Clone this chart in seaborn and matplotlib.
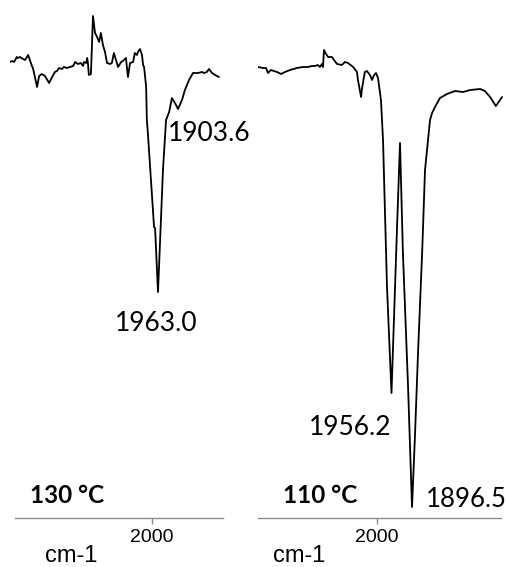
import matplotlib
matplotlib.use("Agg")
import matplotlib.pyplot as plt
import seaborn as sns
import pandas as pd

# spectrum at 130 °C (wavenumber in cm-1, transmittance in arbitrary %)
wn_130 = [2414, 2408, 2402, 2394, 2391, 2385, 2376, 2370, 2361, 2356, 2350, 2347,
          2335, 2329, 2321, 2312, 2300, 2291, 2283, 2277, 2271, 2262, 2257, 2248,
          2239, 2230, 2224, 2216, 2207, 2201, 2198, 2192, 2189, 2187, 2184, 2178,
          2172, 2166, 2160, 2154, 2149, 2143, 2137, 2131, 2122, 2117, 2111, 2105,
          2099, 2090, 2085, 2076, 2070, 2064, 2055, 2050, 2044, 2041, 2035, 2029,
          2026, 2023, 2017, 2015, 2012, 1994, 1991, 1982.5, 1968, 1959, 1950, 1942,
          1933, 1924, 1912.5, 1904, 1892, 1880.5, 1866, 1854, 1848, 1840, 1834,
          1825, 1816, 1805]
t_130 = [91.2, 91.4, 91.2, 92.2, 92.0, 92.2, 91.8, 91.6, 92.6, 91.6, 90.4, 90.0,
         86.2, 88.4, 88.8, 88.4, 87.0, 88.2, 89.2, 89.4, 90.0, 89.8, 90.2, 90.0,
         90.2, 90.4, 91.2, 90.8, 91.0, 90.4, 91.2, 91.0, 92.0, 91.2, 88.6, 88.8,
         100.4, 97.0, 96.2, 95.2, 97.0, 94.6, 93.2, 91.0, 90.8, 91.0, 93.0, 91.6,
         90.2, 91.2, 91.4, 92.0, 88.2, 91.0, 91.2, 93.0, 92.6, 93.2, 93.8, 92.6,
         90.6, 90.2, 86.2, 79.6, 77.0, 58.2, 58.0, 45.2, 69.6, 79.6, 81.2, 84.0,
         83.0, 81.8, 83.6, 85.6, 87.6, 89.0, 89.0, 89.2, 89.0, 89.2, 89.8,
         89.0, 88.6, 88.2]

# spectrum at 110 °C
wn_110 = [2345, 2331, 2322, 2316, 2308, 2299, 2290, 2278, 2267, 2252, 2232, 2214,
          2200, 2188, 2179, 2171, 2165, 2159, 2156, 2153, 2147, 2141, 2130, 2124,
          2115, 2101, 2092, 2083, 2068, 2057, 2054, 2045, 2042, 2034, 2028, 2019,
          2013, 2007, 2001.5, 1995.6, 1987, 1984, 1981, 1969.4, 1956.3, 1946,
          1939.4, 1931.5, 1923, 1908, 1896.5, 1888, 1879, 1867, 1858.6, 1844, 1838,
          1829.5, 1815, 1794.5, 1771, 1748, 1727, 1698, 1684, 1669, 1652, 1646, 1634]
t_110 = [90.2, 90.0, 90.0, 89.0, 89.6, 89.4, 89.2, 88.8, 89.2, 89.6, 90.0, 90.2,
         90.2, 90.4, 90.4, 90.6, 90.2, 90.8, 90.2, 93.6, 92.8, 92.2, 92.2, 91.6,
         90.8, 90.6, 91.2, 91.0, 90.2, 89.2, 87.6, 84.2, 86.0, 89.2, 89.4, 88.6,
         87.6, 88.6, 89.0, 88.0, 83.6, 79.6, 75.6, 46.2, 25.0, 46.2,
         59.6, 75.0, 53.0, 26.2, 2.2, 16.2, 33.0, 53.0, 69.6, 79.6, 81.0,
         82.2, 84.0, 84.8, 85.4, 85.2, 85.6, 85.8, 85.4, 84.2, 82.4, 83.0, 84.2]

peaks_130 = ["1963.0", "1903.6"]
peaks_110 = ["1956.2", "1896.5"]
temps = ["130 °C", "110 °C"]

sns.set_style("white")
plt.rcParams["font.family"] = ["Liberation Sans", "DejaVu Sans"]
plt.rcParams["text.color"] = "black"
plt.rcParams["xtick.labelcolor"] = "black"

fig = plt.figure(figsize=(5.07, 5.67), dpi=100)
ax1 = fig.add_axes([10 / 507, 49 / 567, 213 / 507, 518 / 567])
ax2 = fig.add_axes([258 / 507, 49 / 567, 245 / 507, 518 / 567])

df1 = pd.DataFrame({"wn": wn_130, "t": t_130})
df2 = pd.DataFrame({"wn": wn_110, "t": t_110})
sns.lineplot(data=df1, x="wn", y="t", ax=ax1, color="black", lw=1.3,
             sort=False, estimator=None)
sns.lineplot(data=df2, x="wn", y="t", ax=ax2, color="black", lw=1.3,
             sort=False, estimator=None)

ax1.set_xlim(2413.9, 1793.0)
ax2.set_xlim(2345.4, 1631.3)
ax1.spines["bottom"].set_bounds(1793.0, 2399.4)
ax2.spines["bottom"].set_bounds(1637.1, 2345.4)

for ax in (ax1, ax2):
    ax.set_ylim(0, 103.6)
    ax.patch.set_visible(False)
    for side in ("left", "right", "top"):
        ax.spines[side].set_visible(False)
    ax.spines["bottom"].set_color("#8c8c8c")
    ax.spines["bottom"].set_linewidth(1.0)
    ax.set_yticks([])
    ax.set_xticks([2000])
    ax.set_xticklabels(["2000"])
    ax.tick_params(axis="x", direction="out", length=4, width=1.0,
                   color="#8c8c8c", pad=4, labelsize=14, bottom=True,
                   labelcolor="black")
    ax.set_xlabel("")
    ax.set_ylabel("")

lato = ["Lato", "DejaVu Sans"]
ax1.text(1988.3, 37.4, peaks_130[0], ha="center", va="baseline", fontsize=19,
         family=lato, color="black")
ax1.text(1953.4, 75.4, peaks_130[1], ha="left", va="baseline", fontsize=19,
         family=lato, color="black")
ax2.text(2077, 16.6, peaks_110[0], ha="center", va="baseline", fontsize=19,
         family=lato, color="black")
ax2.text(1856, 2.2, peaks_110[1], ha="left", va="baseline", fontsize=18.5,
         family=lato, color="black")
ax1.text(2356, 3.0, temps[0], ha="left", va="baseline", fontsize=17.5,
         fontweight="bold", family=lato, color="black")
ax2.text(2272.5, 3.0, temps[1], ha="left", va="baseline", fontsize=17.5,
         fontweight="bold", family=lato, color="black")

fig.text(45 / 507, 5 / 567, "cm-1", ha="left", va="baseline", fontsize=17,
         color="black")
fig.text(273 / 507, 5 / 567, "cm-1", ha="left", va="baseline", fontsize=17,
         color="black")

fig.savefig("out.png", dpi=100)
